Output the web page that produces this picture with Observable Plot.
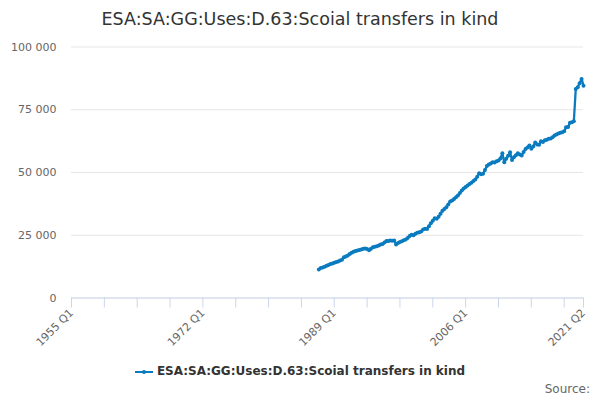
<!DOCTYPE html>
<html>
<head>
<meta charset="utf-8">
<script src="https://cdn.jsdelivr.net/npm/d3@7"></script>
<script src="https://cdn.jsdelivr.net/npm/@observablehq/plot@0.6"></script>
<style>
  html, body { margin: 0; padding: 0; background: #fff; }
  body { width: 600px; height: 400px; position: relative; overflow: hidden; font-family: "DejaVu Sans", sans-serif; }
  #title { position: absolute; left: 0; top: 0; width: 600px; height: 36px; line-height: 38px; text-align: center; font-size: 17.5px; color: #333; }
  #chart { position: absolute; left: 0; top: 36px; }
  #legend { position: absolute; left: 0; top: 364px; width: 600px; text-align: center; font-size: 12px; font-weight: bold; color: #333; }
  #legend svg { vertical-align: middle; margin-right: 4px; }
  #source { position: absolute; right: 10px; top: 382px; font-size: 12px; color: #666; }
</style>
</head>
<body>
<div id="title">ESA:SA:GG:Uses:D.63:Scoial transfers in kind</div>
<div id="chart"></div>
<div id="legend"></div>
<div id="source">Source:</div>
<script>
// ---- data ----
const seriesName = "ESA:SA:GG:Uses:D.63:Scoial transfers in kind";
const firstYear = 1955;            // category axis start (Q1)
const lastYear = 2021, lastQ = 2;  // category axis end
const dataStart = "1987 Q1";
const values = [
  11400, 12000, 12200, 12500,   // 1987
  12800, 13100, 13500, 13700,   // 1988
  14000, 14300, 14500, 14900,   // 1989
  15200, 16200, 16500, 16900,   // 1990
  17500, 18000, 18400, 18700,   // 1991
  18900, 19100, 19300, 19600,   // 1992
  19700, 19500, 19000, 19600,   // 1993
  20200, 20400, 20600, 20900,   // 1994
  21300, 21500, 22100, 22700,   // 1995
  22700, 22900, 22800, 22900,   // 1996
  21300, 21900, 22300, 22600,   // 1997
  23000, 23300, 23900, 24700,   // 1998
  25200, 25000, 25600, 26000,   // 1999
  26200, 26500, 27300, 27600,   // 2000
  27500, 28600, 29800, 30800,   // 2001
  31800, 31600, 32400, 33600,   // 2002
  34800, 35500, 36200, 37300,   // 2003
  38400, 38800, 39400, 40100,   // 2004
  40800, 41800, 42800, 43600,   // 2005
  44200, 44800, 45400, 45900,   // 2006
  46600, 47200, 48300, 49700,   // 2007
  49300, 49500, 51000, 52600,   // 2008
  53200, 53600, 54100, 54000,   // 2009
  54500, 54800, 55600, 57700,   // 2010
  54100, 55500, 56700, 58100,   // 2011
  55000, 56100, 56900, 57700,   // 2012
  57200, 56800, 58200, 59400,   // 2013
  60000, 60800, 59500, 60400,   // 2014
  62000, 61200, 61100, 62500,   // 2015
  62200, 62800, 63000, 63400,   // 2016
  63500, 64000, 64700, 65100,   // 2017
  65500, 65800, 66000, 66400,   // 2018
  68000, 68100, 69800, 70000,   // 2019
  70400, 83300, 84000, 85600,   // 2020
  87300, 84600                  // 2021
];
const yTicks = [0, 25000, 50000, 75000, 100000];
const tickLabels = ["1955 Q1", "1972 Q1", "1989 Q1", "2006 Q1", "2021 Q2"];
const tickStep = 17; // quarters between minor category ticks
const lineColor = "#0a7bbf";

// ---- build categories ----
const quarters = [];
for (let y = firstYear; y <= lastYear; y++) {
  for (let q = 1; q <= 4; q++) {
    if (y === lastYear && q > lastQ) break;
    quarters.push(`${y} Q${q}`);
  }
}
const startIdx = quarters.indexOf(dataStart);
const data = values.map((v, i) => ({q: quarters[startIdx + i], v}));
const tickQuarters = quarters.filter((d, i) => i % tickStep === 0);
if (!tickQuarters.includes(quarters[quarters.length - 1])) tickQuarters.push(quarters[quarters.length - 1]);

const fmt = v => d3.format(",")(v).replace(/,/g, " ");

const chart = Plot.plot({
  width: 600,
  height: 320,
  marginLeft: 71,
  marginRight: 17,
  marginTop: 10.5,
  marginBottom: 58.5,
  style: {fontFamily: "DejaVu Sans, sans-serif", fontSize: "11px", color: "#666", background: "#fff"},
  x: {type: "point", domain: quarters, padding: 0},
  y: {domain: [0, 100000]},
  marks: [
    Plot.gridY(yTicks, {stroke: "#e6e6e6", strokeOpacity: 1}),
    Plot.axisY(yTicks, {tickSize: 0, tickPadding: 15, tickFormat: fmt, fill: "#666", fontSize: 11, label: null}),
    Plot.axisX(tickQuarters, {
      tickSize: 10, stroke: "#ccd6eb", strokeOpacity: 1,
      tickFormat: d => tickLabels.includes(d) ? d : "",
      tickRotate: -45, fill: "#666", fontSize: 11, label: null, tickPadding: 3
    }),
    Plot.ruleY([0], {stroke: "#ccd6eb"}),
    Plot.line(data, {x: "q", y: "v", stroke: lineColor, strokeWidth: 2.3}),
    Plot.dot(data, {x: "q", y: "v", r: 2, fill: lineColor, stroke: "none"})
  ]
});
document.getElementById("chart").appendChild(chart);

// legend
const leg = document.getElementById("legend");
leg.innerHTML = `<svg width="18" height="10"><line x1="0" y1="5" x2="18" y2="5" stroke="${lineColor}" stroke-width="2"/><circle cx="9" cy="5" r="2" fill="${lineColor}"/></svg>` +
  `<span>${seriesName}</span>`;
</script>
</body>
</html>
